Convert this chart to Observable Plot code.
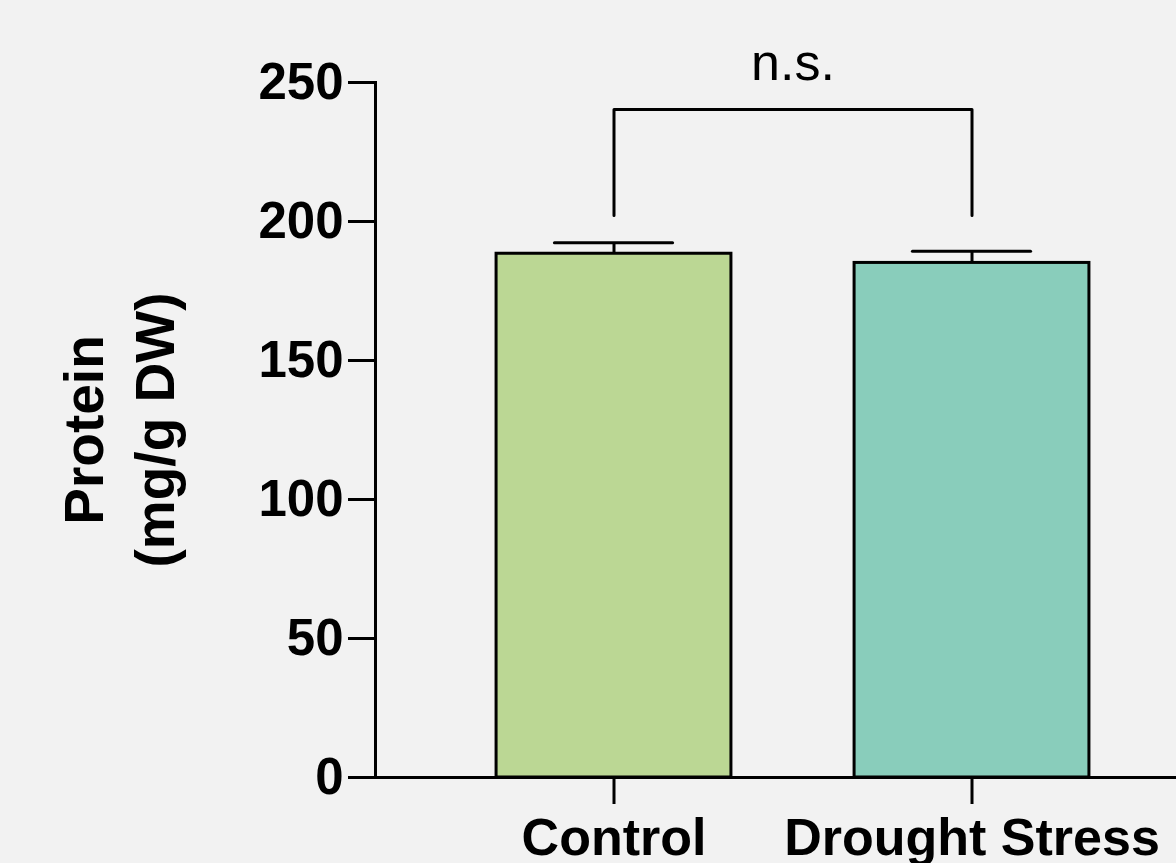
<!DOCTYPE html>
<html><head><meta charset="utf-8">
<script src="https://cdn.jsdelivr.net/npm/d3@7"></script>
<script src="https://cdn.jsdelivr.net/npm/@observablehq/plot@0.6"></script>
<style>html,body{margin:0;padding:0;background:#f2f2f2;overflow:hidden}</style>
</head><body><div id="chart"></div>
<script>
const groups = ["Control", "Drought Stress"];
const means = [188.4, 185.1];
const sems = [4.0, 4.2];
const colors = ["#bbd794", "#89cdbb"];
const yTicks = [0, 50, 100, 150, 200, 250];
const groupTicks = [0, 1];
const bracketLow = 202.2;
const bracketHigh = 240.3;
const sigLabel = "n.s.";
const yLabel = "Protein\n(mg/g DW)";

const data = groups.map((g, i) => ({i, group: g, mean: means[i], sem: sems[i], color: colors[i]}));
const bracket = [
  {x: 0, y: bracketLow}, {x: 0, y: bracketHigh},
  {x: 1, y: bracketHigh}, {x: 1, y: bracketLow}
];
const barHalf = 0.328, capHalf = 0.165;
const font = '"Liberation Sans", Arial, Helvetica, sans-serif';

const plot = Plot.plot({
  width: 1176, height: 863,
  marginLeft: 375, marginRight: 0, marginTop: 82, marginBottom: 86,
  style: {background: "#f2f2f2", fontFamily: font, fontWeight: "bold", color: "#000", overflow: "visible"},
  x: {domain: [-0.6662, 1.5712], axis: null},
  y: {domain: [0, 250], axis: null},
  color: {type: "identity"},
  marks: [
    Plot.rectY(data, {x1: d => d.i - barHalf, x2: d => d.i + barHalf, y1: 0, y2: "mean", fill: "color", stroke: "#000", strokeWidth: 3}),
    Plot.ruleX(data, {x: "i", y1: "mean", y2: d => d.mean + d.sem, stroke: "#000", strokeWidth: 3}),
    Plot.ruleY(data, {y: d => d.mean + d.sem, x1: d => d.i - capHalf, x2: d => d.i + capHalf, stroke: "#000", strokeWidth: 3, strokeLinecap: "round"}),
    Plot.line(bracket, {x: "x", y: "y", stroke: "#000", strokeWidth: 3, strokeLinecap: "round"}),
    Plot.text([sigLabel], {x: 0.5, y: bracketHigh, text: d => d, dy: -29, lineAnchor: "bottom", fontSize: 52, fontWeight: "normal", fill: "#000"}),
    Plot.axisY({ticks: yTicks, tickSize: 27, tickPadding: 5, fontSize: 51, strokeWidth: 3, label: null}),
    Plot.axisX({ticks: groupTicks, tickFormat: i => groups[i], tickSize: 27, tickPadding: 14, fontSize: 52, strokeWidth: 3, label: null}),
    Plot.frame({anchor: "left", stroke: "#000", strokeWidth: 3}),
    Plot.frame({anchor: "bottom", stroke: "#000", strokeWidth: 3}),
    Plot.text([yLabel], {frameAnchor: "left", text: d => d, rotate: -90, dx: -260, textAnchor: "middle", lineAnchor: "middle", lineHeight: 1.3, fontSize: 55, fill: "#000"})
  ]
});
document.getElementById("chart").appendChild(plot);
</script>
</body></html>
